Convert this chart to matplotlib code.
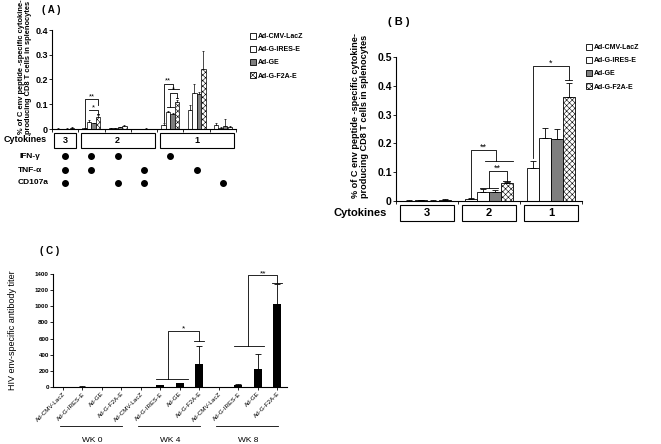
import numpy as np
import matplotlib.pyplot as plt
import matplotlib.transforms as mtransforms
from matplotlib.patches import Rectangle, Patch

plt.rcParams['font.family'] = ['Liberation Sans', 'DejaVu Sans']

W, H = 661, 444

vaccines = ['Ad-CMV-LacZ', 'Ad-G-IRES-E', 'Ad-GE', 'Ad-G-F2A-E']

# panel A: cytokine combinations
a_ncyt = ['3', '2', '2', '2', '1', '1', '1']
a_ifn = [1, 1, 1, 0, 1, 0, 0]
a_tnf = [1, 1, 0, 1, 0, 1, 0]
a_cd107 = [1, 0, 1, 1, 0, 0, 1]
a_lacz = [0.002, 0.003, 0.004, 0.001, 0.015, 0.075, 0.018]
a_lacz_err = [0.001, 0.002, 0.002, 0.001, 0.010, 0.020, 0.007]
a_ires = [0.001, 0.028, 0.003, 0.000, 0.068, 0.145, 0.005]
a_ires_err = [0.001, 0.007, 0.002, 0.000, 0.005, 0.035, 0.003]
a_ge = [0.002, 0.023, 0.008, 0.002, 0.060, 0.143, 0.012]
a_ge_err = [0.001, 0.003, 0.002, 0.001, 0.004, 0.008, 0.028]
a_f2a = [0.005, 0.050, 0.012, 0.001, 0.108, 0.242, 0.008]
a_f2a_err = [0.002, 0.006, 0.003, 0.001, 0.008, 0.073, 0.004]

# panel B: by number of cytokines
b_ncyt = ['3', '2', '1']
b_lacz = [0.001, 0.006, 0.115]
b_lacz_err = [0.001, 0.003, 0.025]
b_ires = [0.002, 0.030, 0.220]
b_ires_err = [0.001, 0.012, 0.035]
b_ge = [0.001, 0.030, 0.215]
b_ge_err = [0.001, 0.008, 0.035]
b_f2a = [0.005, 0.064, 0.360]
b_f2a_err = [0.002, 0.002, 0.050]

# panel C: antibody titer
c_weeks = ['WK 0', 'WK 4', 'WK 8']
c_lacz = [0, 0, 0]
c_ires = [5, 22, 28]
c_ires_err = [2, 4, 5]
c_ge = [3, 45, 228]
c_ge_err = [2, 10, 186]
c_f2a = [3, 285, 1025]
c_f2a_err = [2, 220, 255]

styles = [dict(color='white', hatch=None),
          dict(color='white', hatch=None),
          dict(color='#7f7f7f', hatch=None),
          dict(color='white', hatch='xxxxxx')]

plt.rcParams['hatch.linewidth'] = 0.4


def fx(px):
    return px / W


def fy(py):
    return 1 - py / H


def grouped_bars(ax, series, errs, width, lw=0.6, cap=1.2):
    n = len(series[0])
    x = np.arange(n)
    for i, (vals, e) in enumerate(zip(series, errs)):
        ax.bar(x + (i - 1.5) * width, vals, width, yerr=[np.zeros(n), e],
               color=styles[i]['color'], hatch=styles[i]['hatch'],
               edgecolor='black', linewidth=lw,
               error_kw=dict(elinewidth=lw, capsize=cap, capthick=lw, ecolor='black'))


def bracket(ax, x1, x2, y, low1, low2, txt, fs=6, dy=0.0):
    ax.plot([x1, x1, x2, x2], [low1, y, y, low2], color='black', lw=0.6, clip_on=False)
    ax.text((x1 + x2) / 2, y + dy, txt, ha='center', va='bottom', fontsize=fs)


def hline(ax, x1, x2, y):
    ax.plot([x1, x2], [y, y], color='black', lw=0.6, clip_on=False)


def style_axes(ax, fs, bold=True):
    for s in ['top', 'right']:
        ax.spines[s].set_visible(False)
    for s in ['left', 'bottom']:
        ax.spines[s].set_linewidth(0.8)
    ax.tick_params(axis='y', length=2, width=0.6, pad=1, labelsize=fs)
    for t in ax.get_yticklabels():
        t.set_fontweight('bold' if bold else 'normal')


def cyt_boxes(ax, ncyt, top, bot, pad, fs):
    trans = mtransforms.blended_transform_factory(ax.transData, ax.transAxes)
    runs = []
    start = 0
    for i in range(1, len(ncyt) + 1):
        if i == len(ncyt) or ncyt[i] != ncyt[start]:
            runs.append((start, i - 1, ncyt[start]))
            start = i
    for s, e, lab in runs:
        x0 = s - 0.5 + pad
        x1 = e + 0.5 - pad
        ax.add_patch(Rectangle((x0, bot), x1 - x0, top - bot, transform=trans,
                               fill=False, lw=0.8, clip_on=False))
        ax.text((x0 + x1) / 2, (top + bot) / 2, lab, transform=trans,
                ha='center', va='center', fontsize=fs, fontweight='bold')


fig = plt.figure(figsize=(W / 100, H / 100), dpi=100)

# ---------------- panel A ----------------
axA = fig.add_axes([fx(52), fy(129), fx(236 - 52), (129 - 30) / H])
wA = 0.17
grouped_bars(axA, [a_lacz, a_ires, a_ge, a_f2a],
             [a_lacz_err, a_ires_err, a_ge_err, a_f2a_err], wA, lw=0.5, cap=1.0)
axA.set_xlim(-0.5, len(a_ncyt) - 0.5)
axA.set_ylim(0, 0.4)
axA.set_yticks([0, 0.1, 0.2, 0.3, 0.4])
axA.set_yticklabels(['0', '0.1', '0.2', '0.3', '0.4'])
axA.set_xticks(np.arange(len(a_ncyt) + 1) - 0.5)
axA.set_xticklabels([])
axA.tick_params(axis='x', length=2, width=0.6)
style_axes(axA, 6.5)

# significance marks A
bracket(axA, 1 - 1.5 * wA, 1 + 1.5 * wA, 0.12, 0.008, 0.095, '**', fs=5.5, dy=-0.004)
bracket(axA, 1 - 0.5 * wA, 1 + 1.5 * wA, 0.075, 0.075, 0.060, '*', fs=5.5, dy=-0.004)
hline(axA, 1 + 1.5 * wA - 0.05, 1 + 1.5 * wA + 0.05, 0.060)
bracket(axA, 4 - 1.5 * wA, 4 + 0.5 * wA, 0.183, 0.03, 0.161, '**', fs=5.5, dy=-0.004)
hline(axA, 4 - 0.6 * wA, 4 + 1.9 * wA, 0.161)
bracket(axA, 4, 4 + 1.5 * wA, 0.146, 0.087, 0.125, '*', fs=5.5, dy=-0.004)
hline(axA, 4 - 0.8 * wA, 4 + 0.8 * wA, 0.087)
hline(axA, 4 + 1.5 * wA - 0.05, 4 + 1.5 * wA + 0.05, 0.125)

cyt_boxes(axA, a_ncyt, -0.04, -0.19, 0.09, 6.5)
transA = mtransforms.blended_transform_factory(axA.transData, axA.transAxes)
rowsA = [(a_ifn, -0.273), (a_tnf, -0.414), (a_cd107, -0.545)]
for flags, yy in rowsA:
    xs = [i for i, f in enumerate(flags) if f]
    axA.scatter(xs, [yy] * len(xs), s=16, color='black', transform=transA, clip_on=False)
fig.text(fx(4), fy(140), 'Cytokines', fontsize=6.5, fontweight='bold', va='center')
fig.text(fx(20), fy(156), 'IFN-\u03b3', fontsize=6, fontweight='bold', va='center')
fig.text(fx(18), fy(170), 'TNF-\u03b1', fontsize=6, fontweight='bold', va='center')
fig.text(fx(18), fy(183), 'CD107a', fontsize=6, fontweight='bold', va='center')

fig.text(fx(25), fy(67), '% of C env peptide -specific cytokine-\nproducing CD8 T cells in splenocytes',
         rotation=90, ha='center', va='center', fontsize=5.4, fontweight='bold', linespacing=1.15)
fig.text(fx(42), fy(10), '( A )', fontsize=7, fontweight='bold', va='center')

handles = [Patch(facecolor=s['color'], hatch=s['hatch'], edgecolor='black', linewidth=0.6)
           for s in styles]
fig.legend(handles, vaccines, loc='upper left', bbox_to_anchor=(fx(247), fy(30)),
           frameon=False, handlelength=0.9, handleheight=0.9,
           handletextpad=0.3, labelspacing=0.85, borderaxespad=0,
           prop=dict(size=5, weight='bold'))

# ---------------- panel B ----------------
axB = fig.add_axes([fx(396), fy(201), fx(582 - 396), (201 - 57) / H])
wB = 0.19
grouped_bars(axB, [b_lacz, b_ires, b_ge, b_f2a],
             [b_lacz_err, b_ires_err, b_ge_err, b_f2a_err], wB, lw=0.6, cap=2.0)
axB.set_xlim(-0.5, len(b_ncyt) - 0.5)
axB.set_ylim(0, 0.5)
axB.set_yticks([0, 0.1, 0.2, 0.3, 0.4, 0.5])
axB.set_yticklabels(['0', '0.1', '0.2', '0.3', '0.4', '0.5'])
axB.set_xticks(np.arange(len(b_ncyt) + 1) - 0.5)
axB.set_xticklabels([])
axB.tick_params(axis='x', length=2, width=0.6)
style_axes(axB, 7.5)

bracket(axB, 1 - 1.5 * wB, 1 + 0.6 * wB, 0.176, 0.012, 0.14, '**', fs=6.5, dy=-0.006)
hline(axB, 1 - 0.3 * wB, 1 + 2.0 * wB, 0.14)
bracket(axB, 1, 1 + 1.5 * wB, 0.103, 0.045, 0.070, '**', fs=6.5, dy=-0.006)
hline(axB, 1 - 0.8 * wB, 1 + 0.8 * wB, 0.045)
hline(axB, 1 + 1.5 * wB - 0.06, 1 + 1.5 * wB + 0.06, 0.070)
bracket(axB, 2 - 1.5 * wB, 2 + 1.5 * wB, 0.47, 0.15, 0.42, '*', fs=6.5, dy=-0.006)
hline(axB, 2 + 1.5 * wB - 0.06, 2 + 1.5 * wB + 0.06, 0.42)

cyt_boxes(axB, b_ncyt, -0.028, -0.139, 0.06, 8)
fig.text(fx(333), fy(213), 'Cytokines', fontsize=8, fontweight='bold', va='center')
fig.text(fx(360), fy(116), '% of C env peptide -specific cytokine-\nproducing CD8 T cells in splenocytes',
         rotation=90, ha='center', va='center', fontsize=6.6, fontweight='bold', linespacing=1.1)
fig.text(fx(388), fy(22), '( B )', fontsize=8, fontweight='bold', va='center')
fig.legend(handles, vaccines, loc='upper left', bbox_to_anchor=(fx(583), fy(41)),
           frameon=False, handlelength=0.9, handleheight=0.9,
           handletextpad=0.3, labelspacing=0.85, borderaxespad=0,
           prop=dict(size=5, weight='bold'))

# ---------------- panel C ----------------
axC = fig.add_axes([fx(53), fy(387), fx(287 - 53), (387 - 274) / H])
c_vals = []
c_errs = []
c_labels = []
for k in range(len(c_weeks)):
    c_vals += [c_lacz[k], c_ires[k], c_ge[k], c_f2a[k]]
    c_errs += [0, c_ires_err[k], c_ge_err[k], c_f2a_err[k]]
    c_labels += vaccines
xc = np.arange(len(c_vals))
axC.bar(xc, c_vals, 0.4, yerr=[np.zeros(len(c_vals)), c_errs], color='black',
        error_kw=dict(elinewidth=0.6, capsize=2.5, capthick=0.6, ecolor='black'))
axC.set_xlim(-0.5, len(c_vals) - 0.5)
axC.set_ylim(0, 1400)
axC.set_yticks(np.arange(0, 1401, 200))
axC.set_xticks(xc)
axC.set_xticklabels(c_labels, rotation=45, ha='right', rotation_mode='anchor', fontsize=4.5)
axC.tick_params(axis='x', length=2, width=0.6, pad=1)
style_axes(axC, 4.5, bold=True)

bracket(axC, 5.4, 7, 695, 103, 571, '*', fs=6, dy=-20)
hline(axC, 4.8, 6.4, 103)
hline(axC, 6.75, 7.25, 571)
bracket(axC, 9.5, 11, 1387, 505, 1284, '**', fs=6, dy=-25)
hline(axC, 8.8, 10.3, 505)
hline(axC, 10.75, 11.25, 1284)

transC = mtransforms.blended_transform_factory(axC.transData, axC.transAxes)
for k, wk in enumerate(c_weeks):
    axC.plot([4 * k - 0.15, 4 * k + 3.05], [-0.345, -0.345], color='black', lw=0.6,
             transform=transC, clip_on=False)
    axC.text(4 * k + 1.5, -0.47, wk, transform=transC, ha='center', va='center', fontsize=6)

fig.text(fx(13), fy(330), 'HIV env-specific antibody titer', rotation=90,
         ha='center', va='center', fontsize=6.5)
fig.text(fx(40), fy(251), '( C )', fontsize=7, fontweight='bold', va='center')

fig.savefig('out.png', dpi=100)
